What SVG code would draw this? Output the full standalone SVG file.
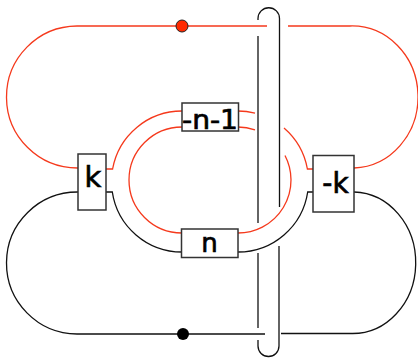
<svg xmlns="http://www.w3.org/2000/svg" width="418" height="358" viewBox="0 0 418 358">
<style>
.r{fill:none;stroke:#f5391c;stroke-width:1.3}
.b{fill:none;stroke:#111;stroke-width:1.3}
.box{fill:#fff;stroke:#333;stroke-width:1.5}
.t{font-family:"DejaVu Sans",sans-serif;fill:#000;stroke:#000;stroke-width:0.7;text-anchor:middle}
</style>
<rect width="418" height="358" fill="#fff"/>
<g id="connectors">
<path class="r" d="M267,26 H77 A71,71 0 0 0 78,168"/>
<path class="r" d="M288,26 H350 A66,71 0 0 1 354,168"/>
<path class="b" d="M78,192 A71,71 0 0 0 77,334 H265"/>
<path class="b" d="M281,333.5 H351 A63,70.5 0 0 0 354,192"/>
<path class="r" d="M182,111 A70.5,70.5 0 0 0 112.6,169 H106"/>
<path class="b" d="M106,192 H112.3 A70.5,70.5 0 0 0 182,252"/>
<path class="r" d="M182,127 A53,53 0 0 0 182,233"/>
<path class="r" d="M238,111 A70.5,70.5 0 0 1 255,113.1"/>
<path class="r" d="M284,128 A70.5,70.5 0 0 1 307.4,169 H313"/>
<path class="r" d="M238,127 A53,53 0 0 1 255,129.8"/>
<path class="r" d="M238,233 A53,53 0 0 0 285,155.5"/>
<path class="b" d="M238,252 A70.5,70.5 0 0 0 307.7,192 H313"/>
<path class="b" d="M258,20 V18.5 A10.75,10.75 0 0 1 279.5,18.5 V207"/>
<path class="b" d="M258,36 V223"/>
<path class="b" d="M258,253 V328"/>
<path class="b" d="M258,340 V346 A10.5,10.5 0 0 0 279,346 V246"/>
</g>
<g id="dot-red"><circle cx="182" cy="26" r="6" fill="#ff2a00" stroke="#222" stroke-width="1"/></g>
<g id="dot-black"><circle cx="183" cy="334" r="6" fill="#000"/></g>
<g id="node-k"><rect class="box" x="78" y="154" width="28" height="56"/><text class="t" x="93" y="187" font-size="29">k</text></g>
<g id="node-negk"><rect class="box" x="313" y="155.5" width="41" height="56.5"/><text class="t" x="335.5" y="193" font-size="28">-k</text></g>
<g id="node-negn1"><rect class="box" x="182" y="103" width="56.5" height="28"/><text class="t" x="210" y="129" font-size="26" textLength="56" lengthAdjust="spacingAndGlyphs">-n-1</text></g>
<g id="node-n"><rect class="box" x="181.5" y="229" width="56.5" height="28.5"/><text class="t" x="209.5" y="252" font-size="26">n</text></g>
</svg>
